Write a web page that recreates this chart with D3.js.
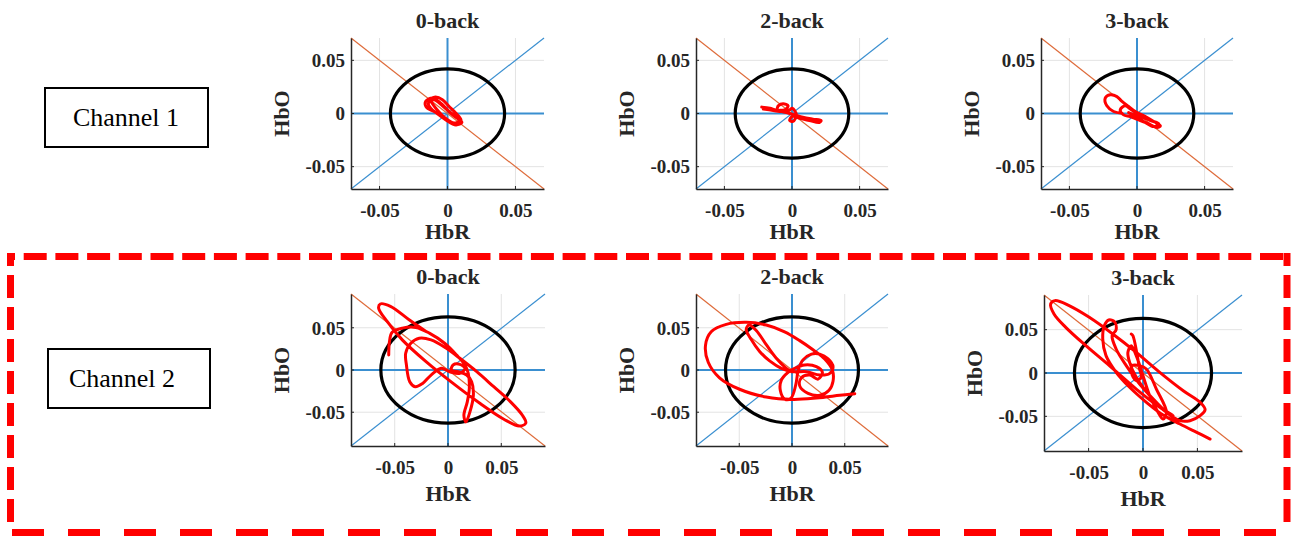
<!DOCTYPE html>
<html>
<head>
<meta charset="utf-8">
<script src="https://cdn.jsdelivr.net/npm/d3@7"></script>
<style>
  body { margin: 0; background: #fff; }
  svg { display: block; }
</style>
</head>
<body>
<svg id="fig" width="1291" height="536"></svg>
<script>
// ---- Data ----------------------------------------------------------------
const taskTitles = ["0-back", "2-back", "3-back"];
const channelLabels = ["Channel 1", "Channel 2"];
const tickValues = [-0.05, 0, 0.05];
const tickLabels = ["-0.05", "0", "0.05"];

// axis limits per channel row
const ch1XLimit = [-0.071, 0.071];
const ch1YLimit = [-0.071, 0.071];
const ch2XLimit = [-0.091, 0.091];
const ch2YLimit = [-0.09, 0.09];

// radius of the black threshold circle (data units)
const ch1Radius = 0.042;
const ch2Radius = 0.063;

// HbR (x) / HbO (y) trajectories
const ch1Back0 = [
  [-0.0136, 0.0129], [-0.0087, 0.0154], [-0.0037, 0.0129], [0.0012, 0.0066], [0.0062, 0.0003],
  [0.0099, -0.0060], [0.0087, -0.0097], [0.0025, -0.0085], [-0.0037, -0.0028], [-0.0099, 0.0019],
  [-0.0156, 0.0060], [-0.0161, 0.0113], [-0.0111, 0.0145], [-0.0050, 0.0097], [0.0012, 0.0019],
  [0.0074, -0.0044], [0.0106, -0.0085], [0.0062, -0.0107], [-0.0012, -0.0060], [-0.0074, -0.0003],
  [-0.0124, 0.0050], [-0.0141, 0.0097], [-0.0099, 0.0129], [-0.0037, 0.0072], [0.0037, -0.0013],
  [0.0087, -0.0066], [0.0050, -0.0090], [-0.0020, -0.0040], [-0.0080, 0.0040], [-0.0120, 0.0110]
];
const ch1Back2 = [
  [-0.0224, 0.0060], [-0.0163, 0.0050], [-0.0115, 0.0035], [-0.0102, 0.0072], [-0.0066, 0.0091],
  [-0.0029, 0.0072], [-0.0054, 0.0035], [-0.0102, 0.0028], [-0.0041, 0.0009], [0.0020, -0.0013],
  [0.0080, -0.0035], [0.0154, -0.0053], [0.0215, -0.0066], [0.0202, -0.0085], [0.0129, -0.0066],
  [0.0056, -0.0044], [0.0002, -0.0028], [-0.0017, -0.0066], [0.0007, -0.0075], [0.0032, -0.0013],
  [0.0002, 0.0050], [-0.0017, 0.0035], [-0.0066, 0.0019], [-0.0139, 0.0028], [-0.0212, 0.0041]
];
const ch1Back3 = [
  [-0.0111, 0.0003], [-0.0173, 0.0019], [-0.0223, 0.0072], [-0.0235, 0.0145], [-0.0198, 0.0176],
  [-0.0149, 0.0160], [-0.0111, 0.0113], [-0.0062, 0.0066], [-0.0012, 0.0019], [0.0062, -0.0028],
  [0.0124, -0.0075], [0.0173, -0.0116], [0.0149, -0.0132], [0.0087, -0.0097], [0.0012, -0.0060],
  [-0.0050, -0.0028], [-0.0099, -0.0013], [-0.0124, 0.0035], [-0.0087, 0.0072], [-0.0042, 0.0035],
  [0.0025, -0.0022], [0.0099, -0.0066], [0.0161, -0.0097], [0.0124, -0.0123], [0.0050, -0.0075],
  [-0.0025, -0.0013], [-0.0062, 0.0009]
];
const ch2Back0 = [
  [-0.0556, 0.0179], [-0.0549, 0.0337], [-0.0524, 0.0448], [-0.0429, 0.0496], [-0.0302, 0.0504],
  [-0.0175, 0.0437], [-0.0032, 0.0317], [0.0079, 0.0179], [0.0159, 0.0060], [0.0190, -0.0040],
  [0.0200, -0.0218], [0.0181, -0.0377], [0.0149, -0.0536], [0.0168, -0.0615], [0.0206, -0.0496],
  [0.0238, -0.0298], [0.0222, -0.0139], [0.0175, -0.0060], [0.0095, -0.0020], [0.0032, 0.0000],
  [0.0048, 0.0060], [0.0111, 0.0067], [0.0159, 0.0020], [0.0111, -0.0040], [0.0016, -0.0020],
  [-0.0063, 0.0020], [-0.0159, -0.0060], [-0.0238, -0.0159], [-0.0308, -0.0198], [-0.0359, -0.0139],
  [-0.0390, 0.0060], [-0.0397, 0.0198], [-0.0349, 0.0317], [-0.0270, 0.0377], [-0.0159, 0.0357],
  [-0.0016, 0.0258], [0.0111, 0.0139], [0.0270, -0.0020], [0.0429, -0.0198], [0.0587, -0.0377],
  [0.0698, -0.0536], [0.0730, -0.0627], [0.0667, -0.0663], [0.0524, -0.0583], [0.0302, -0.0397],
  [0.0048, -0.0159], [-0.0206, 0.0099], [-0.0429, 0.0357], [-0.0571, 0.0575], [-0.0651, 0.0734],
  [-0.0635, 0.0782], [-0.0540, 0.0754], [-0.0365, 0.0595], [-0.0206, 0.0456]
];
const ch2Back2 = [
  [0.0595, -0.0280], [0.0453, -0.0300], [0.0231, -0.0332], [0.0009, -0.0348], [-0.0244, -0.0320],
  [-0.0497, -0.0228], [-0.0687, -0.0092], [-0.0794, 0.0092], [-0.0820, 0.0292], [-0.0766, 0.0452],
  [-0.0623, 0.0540], [-0.0434, 0.0564], [-0.0244, 0.0532], [-0.0070, 0.0452], [0.0073, 0.0348],
  [0.0199, 0.0240], [0.0310, 0.0132], [0.0383, 0.0000], [0.0389, -0.0132], [0.0351, -0.0240],
  [0.0263, -0.0300], [0.0152, -0.0276], [0.0073, -0.0188], [0.0089, -0.0092], [0.0168, -0.0060],
  [0.0247, -0.0108], [0.0288, -0.0028], [0.0231, 0.0040], [0.0120, 0.0060], [0.0025, 0.0020],
  [-0.0038, -0.0028], [-0.0101, -0.0120], [-0.0111, -0.0240], [-0.0066, -0.0348], [-0.0009, -0.0332],
  [0.0035, -0.0180], [0.0060, 0.0000], [0.0104, 0.0120], [0.0184, 0.0188], [0.0263, 0.0188],
  [0.0342, 0.0132], [0.0389, 0.0040], [0.0358, -0.0040], [0.0263, -0.0060], [0.0136, -0.0020],
  [0.0009, -0.0020], [-0.0101, 0.0020], [-0.0212, 0.0108], [-0.0307, 0.0220], [-0.0386, 0.0360],
  [-0.0434, 0.0480], [-0.0408, 0.0532], [-0.0339, 0.0468], [-0.0244, 0.0300], [-0.0149, 0.0140],
  [-0.0054, 0.0020], [-0.0006, -0.0020]
];
const ch2Back3 = [
  [0.0617, -0.0762], [0.0494, -0.0685], [0.0340, -0.0588], [0.0185, -0.0485], [0.0031, -0.0338],
  [-0.0123, -0.0165], [-0.0247, 0.0008], [-0.0340, 0.0200], [-0.0370, 0.0392], [-0.0355, 0.0546],
  [-0.0315, 0.0612], [-0.0262, 0.0592], [-0.0247, 0.0500], [-0.0284, 0.0431], [-0.0247, 0.0277],
  [-0.0154, 0.0085], [-0.0031, -0.0127], [0.0123, -0.0338], [0.0247, -0.0485], [0.0340, -0.0550],
  [0.0432, -0.0550], [0.0525, -0.0492], [0.0571, -0.0423], [0.0525, -0.0338], [0.0370, -0.0204],
  [0.0154, 0.0008], [-0.0062, 0.0238], [-0.0278, 0.0450], [-0.0494, 0.0642], [-0.0679, 0.0777],
  [-0.0809, 0.0835], [-0.0849, 0.0796], [-0.0818, 0.0681], [-0.0710, 0.0527], [-0.0525, 0.0315],
  [-0.0309, 0.0085], [-0.0062, -0.0185], [0.0154, -0.0396], [0.0278, -0.0492], [0.0216, -0.0454],
  [0.0062, -0.0262], [-0.0062, -0.0050], [-0.0123, 0.0123], [-0.0139, 0.0238], [-0.0108, 0.0315],
  [-0.0062, 0.0200], [0.0000, -0.0031], [0.0062, -0.0262], [0.0139, -0.0454], [0.0185, -0.0531],
  [0.0216, -0.0454], [0.0123, -0.0185], [0.0031, 0.0046], [-0.0031, 0.0085], [-0.0099, 0.0085],
  [-0.0108, 0.0008], [-0.0062, -0.0088], [-0.0015, -0.0050], [-0.0031, 0.0046], [-0.0093, 0.0431],
  [-0.0108, 0.0450]
];

// ---- Layout ----------------------------------------------------------------
const rows = [
  {
    xLim: ch1XLimit, yLim: ch1YLimit, radius: ch1Radius,
    traces: [ch1Back0, ch1Back2, ch1Back3],
    boxes: [
      { x: 351, y: 38, w: 193, h: 151 },
      { x: 696, y: 38, w: 192, h: 151 },
      { x: 1041, y: 38, w: 192, h: 151 }
    ],
    xLabelGap: 43,
    label: { x: 45, y: 88, w: 163, h: 59, tx: 126, ty: 126 }
  },
  {
    xLim: ch2XLimit, yLim: ch2YLimit, radius: ch2Radius,
    traces: [ch2Back0, ch2Back2, ch2Back3],
    boxes: [
      { x: 351, y: 294, w: 194, h: 152 },
      { x: 696, y: 294, w: 192, h: 152 },
      { x: 1044, y: 295, w: 198, h: 156 }
    ],
    xLabelGap: 48,
    label: { x: 48, y: 349, w: 162, h: 59, tx: 122, ty: 387 }
  }
];

const serif = "'Liberation Serif', 'Times New Roman', serif";
const axisInk = "#262626";
const blue = "#3a8fd0";
const orange = "#de6b3a";

const svg = d3.select("#fig");

rows.forEach((row, r) => {
  row.boxes.forEach((b, c) => {
    const x = d3.scaleLinear().domain(row.xLim).range([b.x, b.x + b.w]);
    const y = d3.scaleLinear().domain(row.yLim).range([b.y + b.h, b.y]);
    const g = svg.append("g");

    // grid
    g.append("g").selectAll("line").data(tickValues).join("line")
      .attr("x1", d => x(d)).attr("x2", d => x(d))
      .attr("y1", b.y).attr("y2", b.y + b.h)
      .attr("stroke", "#e3e3e3").attr("stroke-width", 1);
    g.append("g").selectAll("line").data(tickValues).join("line")
      .attr("y1", d => y(d)).attr("y2", d => y(d))
      .attr("x1", b.x).attr("x2", b.x + b.w)
      .attr("stroke", "#e3e3e3").attr("stroke-width", 1);

    // reference lines: zero axes and the two diagonals
    g.append("line")
      .attr("x1", x(row.xLim[0])).attr("y1", y(0))
      .attr("x2", x(row.xLim[1])).attr("y2", y(0))
      .attr("stroke", blue).attr("stroke-width", 2);
    g.append("line")
      .attr("x1", x(0)).attr("y1", y(row.yLim[0]))
      .attr("x2", x(0)).attr("y2", y(row.yLim[1]))
      .attr("stroke", blue).attr("stroke-width", 2);
    g.append("line")
      .attr("x1", x(row.xLim[0])).attr("y1", y(row.yLim[0]))
      .attr("x2", x(row.xLim[1])).attr("y2", y(row.yLim[1]))
      .attr("stroke", blue).attr("stroke-width", 1.2);
    g.append("line")
      .attr("x1", x(row.xLim[0])).attr("y1", y(row.yLim[1]))
      .attr("x2", x(row.xLim[1])).attr("y2", y(row.yLim[0]))
      .attr("stroke", orange).attr("stroke-width", 1.2);

    // threshold circle
    g.append("ellipse")
      .attr("cx", x(0)).attr("cy", y(0))
      .attr("rx", x(row.radius) - x(0)).attr("ry", y(0) - y(row.radius))
      .attr("fill", "none").attr("stroke", "#000").attr("stroke-width", 3.2);

    // trajectory
    const line = d3.line().x(d => x(d[0])).y(d => y(d[1])).curve(d3.curveCatmullRom.alpha(0.5));
    g.append("path").datum(row.traces[c])
      .attr("d", line)
      .attr("fill", "none").attr("stroke", "#ff0000")
      .attr("stroke-width", 3).attr("stroke-linejoin", "round").attr("stroke-linecap", "round");

    // axes (left + bottom)
    const xAxis = d3.axisBottom(x).tickValues(tickValues).tickSize(0)
      .tickFormat((d, i) => tickLabels[i]);
    const yAxis = d3.axisLeft(y).tickValues(tickValues).tickSize(0)
      .tickFormat((d, i) => tickLabels[i]);
    const gx = g.append("g").attr("transform", `translate(0,${b.y + b.h})`).call(xAxis);
    const gy = g.append("g").attr("transform", `translate(${b.x},0)`).call(yAxis);
    [gx, gy].forEach(a => {
      a.select(".domain").attr("stroke", axisInk).attr("stroke-width", 1.5);
      a.selectAll("text")
        .attr("font-family", serif).attr("font-weight", "bold")
        .attr("font-size", 19).attr("fill", axisInk);
    });
    gx.selectAll("text").attr("dy", null).attr("y", 28);
    gy.selectAll("text").attr("dy", "0.33em").attr("x", -6);

    // small inward ticks
    g.append("g").selectAll("line").data(tickValues).join("line")
      .attr("x1", d => x(d)).attr("x2", d => x(d))
      .attr("y1", b.y + b.h).attr("y2", b.y + b.h - 3)
      .attr("stroke", axisInk);
    g.append("g").selectAll("line").data(tickValues).join("line")
      .attr("y1", d => y(d)).attr("y2", d => y(d))
      .attr("x1", b.x).attr("x2", b.x + 3)
      .attr("stroke", axisInk);

    // title and axis labels
    g.append("text")
      .attr("x", b.x + b.w / 2).attr("y", b.y - 10)
      .attr("text-anchor", "middle")
      .attr("font-family", serif).attr("font-weight", "bold").attr("font-size", 22)
      .attr("fill", axisInk).text(taskTitles[c]);
    g.append("text")
      .attr("x", b.x + b.w / 2).attr("y", b.y + b.h + row.xLabelGap + 7)
      .attr("text-anchor", "middle")
      .attr("font-family", serif).attr("font-weight", "bold").attr("font-size", 22)
      .attr("fill", axisInk).text("HbR");
    g.append("text")
      .attr("transform", `translate(${b.x - 62},${b.y + b.h / 2}) rotate(-90)`)
      .attr("text-anchor", "middle")
      .attr("font-family", serif).attr("font-weight", "bold").attr("font-size", 22)
      .attr("fill", axisInk).text("HbO");
  });

  // channel label box
  const L = row.label;
  svg.append("rect")
    .attr("x", L.x).attr("y", L.y).attr("width", L.w).attr("height", L.h)
    .attr("fill", "none").attr("stroke", "#000").attr("stroke-width", 2);
  svg.append("text")
    .attr("x", L.tx).attr("y", L.ty)
    .attr("text-anchor", "middle")
    .attr("font-family", serif).attr("font-size", 26).attr("fill", "#000")
    .text(channelLabels[r]);
});

// dashed red frame around the Channel 2 row
const frame = svg.append("g").attr("stroke", "#ff0000").attr("stroke-width", 7).attr("fill", "none");
frame.append("line").attr("x1", 7).attr("y1", 256.5).attr("x2", 1291).attr("y2", 256.5)
  .attr("stroke-dasharray", "23 8.7").attr("stroke-dashoffset", 15);
frame.append("line").attr("x1", 10.5).attr("y1", 253).attr("x2", 10.5).attr("y2", 529)
  .attr("stroke-dasharray", "23 9").attr("stroke-dashoffset", 10);
frame.append("line").attr("x1", 1287).attr("y1", 253).attr("x2", 1287).attr("y2", 529)
  .attr("stroke-dasharray", "23 9").attr("stroke-dashoffset", 10);
frame.append("line").attr("x1", 12).attr("y1", 532.5).attr("x2", 1291).attr("y2", 532.5)
  .attr("stroke-dasharray", "32 24");
</script>
</body>
</html>
